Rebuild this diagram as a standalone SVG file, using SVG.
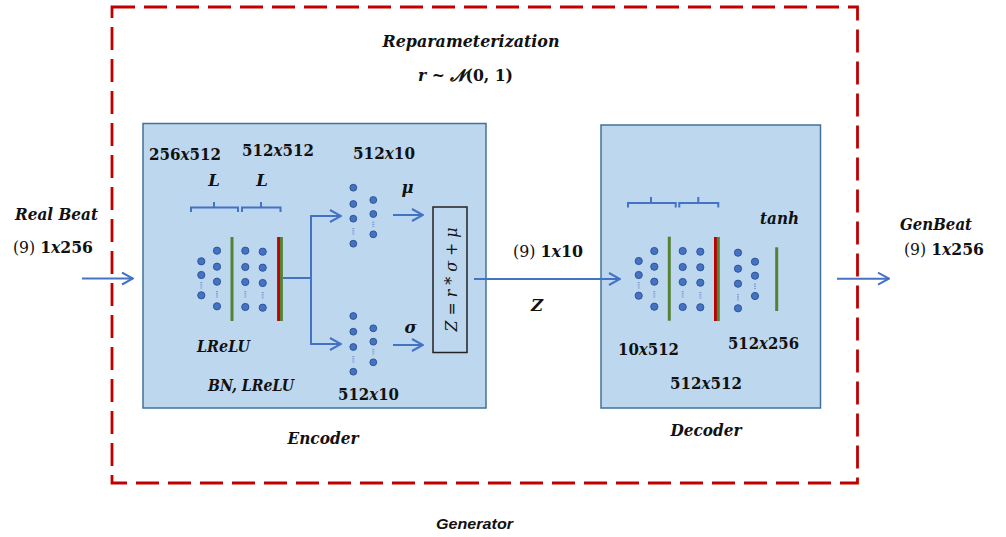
<svg xmlns="http://www.w3.org/2000/svg" width="1006" height="537" viewBox="0 0 1006 537">
  <style>
    .lbl { font-family: "DejaVu Serif", "Liberation Serif", serif; font-weight: bold; fill: #111; font-size: 16.5px; }
    .it { font-style: italic; }
    .rg { font-weight: normal; }
    .box { fill: #bdd7ee; stroke: #41719c; stroke-width: 1.5; }
    .dot { fill: #4472c4; stroke: #2f5597; stroke-width: 1; }
    .gap { stroke: #7f9fd6; stroke-width: 2; stroke-dasharray: 1.2 1; }
    .green { stroke: #548235; stroke-width: 3; }
    .red { stroke: #c00000; stroke-width: 3; }
    .brace { fill: none; stroke: #4472c4; stroke-width: 2; }
    .conn { fill: none; stroke: #4472c4; stroke-width: 2; }
  </style>
  <defs>
    <marker id="arrow" markerUnits="userSpaceOnUse" markerWidth="14" markerHeight="14" viewBox="-13 -7 14 14" refX="0" refY="0" orient="auto">
      <path d="M-11,-6 L0,0 L-11,6" fill="none" stroke="#4472c4" stroke-width="2"/>
    </marker>
  </defs>

  <!-- generator frame -->
  <g id="generator">
    <rect x="112" y="7" width="745.5" height="476" fill="none" stroke="#c00000" stroke-width="2.8" stroke-dasharray="23 9"/>
    <text class="lbl it" x="471" y="47" text-anchor="middle" textLength="177" lengthAdjust="spacingAndGlyphs">Reparameterization</text>
    <text class="lbl" x="418" y="81" textLength="95" lengthAdjust="spacingAndGlyphs"><tspan class="it">r</tspan> ~ <tspan class="it">𝓝</tspan>(0, 1)</text>
    <text x="436" y="529" font-family="Liberation Sans, Arial, sans-serif" font-weight="bold" font-style="italic" font-size="15" textLength="77" lengthAdjust="spacingAndGlyphs" fill="#111">Generator</text>
  </g>

  <!-- input / output labels -->
  <g id="input">
    <text class="lbl it" x="15" y="220" textLength="83" lengthAdjust="spacingAndGlyphs">Real Beat</text>
    <text class="lbl" x="13" y="253" textLength="80" lengthAdjust="spacingAndGlyphs"><tspan class="rg">(9) </tspan>1<tspan class="it">x</tspan>256</text>
  </g>
  <g id="output">
    <text class="lbl it" x="900" y="230" textLength="72" lengthAdjust="spacingAndGlyphs">GenBeat</text>
    <text class="lbl" x="904" y="255" textLength="80" lengthAdjust="spacingAndGlyphs"><tspan class="rg">(9) </tspan>1<tspan class="it">x</tspan>256</text>
  </g>

  <!-- encoder -->
  <g id="encoder">
    <rect class="box" x="143" y="123.5" width="343" height="284.5"/>
    <text class="lbl" x="149" y="160" textLength="72" lengthAdjust="spacingAndGlyphs">256<tspan class="it">x</tspan>512</text>
    <text class="lbl" x="242" y="156" textLength="72" lengthAdjust="spacingAndGlyphs">512<tspan class="it">x</tspan>512</text>
    <text class="lbl" x="353" y="159" textLength="62" lengthAdjust="spacingAndGlyphs">512<tspan class="it">x</tspan>10</text>
    <text class="lbl it" x="214" y="186" font-size="14" text-anchor="middle">L</text>
    <text class="lbl it" x="262" y="186" font-size="14" text-anchor="middle">L</text>
    <path class="brace" d="M191,212 V207.5 H238 V212 M214,207.5 V202"/>
    <path class="brace" d="M242,212 V207.5 H280.5 V212 M261,207.5 V202"/>
    <!-- hidden layers -->
    <circle class="dot" cx="201.3" cy="261.3" r="3.6"/>
    <circle class="dot" cx="201.3" cy="275" r="3.6"/>
    <line class="gap" x1="201.3" y1="282" x2="201.3" y2="289"/>
    <circle class="dot" cx="201.3" cy="295.3" r="3.6"/>
    <circle class="dot" cx="217" cy="250.7" r="3.6"/>
    <circle class="dot" cx="217" cy="266.7" r="3.6"/>
    <circle class="dot" cx="217" cy="281.7" r="3.6"/>
    <line class="gap" x1="217" y1="291" x2="217" y2="298"/>
    <circle class="dot" cx="217" cy="306.3" r="3.6"/>
    <line class="green" x1="232" y1="237" x2="232" y2="321"/>
    <circle class="dot" cx="245.3" cy="250.7" r="3.6"/>
    <circle class="dot" cx="245.3" cy="267" r="3.6"/>
    <circle class="dot" cx="245.3" cy="282" r="3.6"/>
    <line class="gap" x1="245.3" y1="291" x2="245.3" y2="298"/>
    <circle class="dot" cx="245.3" cy="307" r="3.6"/>
    <circle class="dot" cx="262.7" cy="251.7" r="3.6"/>
    <circle class="dot" cx="262.7" cy="267.7" r="3.6"/>
    <circle class="dot" cx="262.7" cy="283" r="3.6"/>
    <line class="gap" x1="262.7" y1="292" x2="262.7" y2="299"/>
    <circle class="dot" cx="262.7" cy="307.7" r="3.6"/>
    <line class="red" x1="278.6" y1="237" x2="278.6" y2="321"/>
    <line class="green" x1="281.4" y1="237" x2="281.4" y2="321"/>
    <!-- mu head -->
    <circle class="dot" cx="353.3" cy="187.7" r="3.4"/>
    <circle class="dot" cx="353.3" cy="204" r="3.4"/>
    <circle class="dot" cx="353.3" cy="218.7" r="3.4"/>
    <line class="gap" x1="353.3" y1="228" x2="353.3" y2="235"/>
    <circle class="dot" cx="353.3" cy="243.7" r="3.4"/>
    <circle class="dot" cx="373.3" cy="200" r="3.4"/>
    <circle class="dot" cx="373.3" cy="214" r="3.4"/>
    <line class="gap" x1="373.3" y1="221.5" x2="373.3" y2="228"/>
    <circle class="dot" cx="373.3" cy="234.3" r="3.4"/>
    <!-- sigma head -->
    <circle class="dot" cx="353.3" cy="316" r="3.4"/>
    <circle class="dot" cx="353.3" cy="331.7" r="3.4"/>
    <circle class="dot" cx="353.3" cy="347" r="3.4"/>
    <line class="gap" x1="353.3" y1="356" x2="353.3" y2="363"/>
    <circle class="dot" cx="353.3" cy="371.7" r="3.4"/>
    <circle class="dot" cx="373.3" cy="328.3" r="3.4"/>
    <circle class="dot" cx="373.3" cy="341.7" r="3.4"/>
    <line class="gap" x1="373.3" y1="349" x2="373.3" y2="355.5"/>
    <circle class="dot" cx="373.3" cy="362.3" r="3.4"/>
    <text class="lbl it" x="407.5" y="193" text-anchor="middle">μ</text>
    <text class="lbl it" x="410.5" y="333" text-anchor="middle">σ</text>
    <text class="lbl it" x="197" y="352" textLength="53" lengthAdjust="spacingAndGlyphs">LReLU</text>
    <text class="lbl it" x="208" y="391" textLength="86" lengthAdjust="spacingAndGlyphs">BN, LReLU</text>
    <text class="lbl" x="338" y="400" textLength="61" lengthAdjust="spacingAndGlyphs">512<tspan class="it">x</tspan>10</text>
    <text class="lbl it" x="323" y="444" text-anchor="middle" textLength="71" lengthAdjust="spacingAndGlyphs">Encoder</text>
  </g>

  <!-- sampling step -->
  <g id="reparam">
    <rect x="433" y="207" width="34" height="145.5" fill="#bdd7ee" stroke="#222" stroke-width="1.5"/>
    <text transform="translate(456.5,279.5) rotate(-90)" x="0" y="0" text-anchor="middle" font-family="DejaVu Serif, Liberation Serif, serif" font-style="italic" font-size="17" fill="#111" textLength="104" lengthAdjust="spacingAndGlyphs">Z = r * σ + μ</text>
  </g>

  <!-- latent -->
  <g id="latent">
    <text class="lbl" x="513" y="257" textLength="70" lengthAdjust="spacingAndGlyphs"><tspan class="rg">(9) </tspan>1<tspan class="it">x</tspan>10</text>
    <text class="lbl it" x="537" y="311" text-anchor="middle">Z</text>
  </g>

  <!-- decoder -->
  <g id="decoder">
    <rect class="box" x="601" y="125" width="219.5" height="283"/>
    <path class="brace" d="M628,207.5 V203 H675.7 V207.5 M651,203 V197"/>
    <path class="brace" d="M679.3,207.5 V203 H718.3 V207.5 M698.3,203 V197"/>
    <circle class="dot" cx="638.7" cy="261" r="3.6"/>
    <circle class="dot" cx="638.7" cy="275" r="3.6"/>
    <line class="gap" x1="638.7" y1="282" x2="638.7" y2="289"/>
    <circle class="dot" cx="638.7" cy="295.7" r="3.6"/>
    <circle class="dot" cx="654.3" cy="251" r="3.6"/>
    <circle class="dot" cx="654.3" cy="266.7" r="3.6"/>
    <circle class="dot" cx="654.3" cy="281.7" r="3.6"/>
    <line class="gap" x1="654.3" y1="291" x2="654.3" y2="298"/>
    <circle class="dot" cx="654.3" cy="306.7" r="3.6"/>
    <line class="green" x1="669.3" y1="236.7" x2="669.3" y2="320.7"/>
    <circle class="dot" cx="682.7" cy="251" r="3.6"/>
    <circle class="dot" cx="682.7" cy="267" r="3.6"/>
    <circle class="dot" cx="682.7" cy="282" r="3.6"/>
    <line class="gap" x1="682.7" y1="291" x2="682.7" y2="298"/>
    <circle class="dot" cx="682.7" cy="307" r="3.6"/>
    <circle class="dot" cx="700.3" cy="251.7" r="3.6"/>
    <circle class="dot" cx="700.3" cy="267.3" r="3.6"/>
    <circle class="dot" cx="700.3" cy="282.7" r="3.6"/>
    <line class="gap" x1="700.3" y1="292" x2="700.3" y2="299"/>
    <circle class="dot" cx="700.3" cy="307.3" r="3.6"/>
    <line class="red" x1="715.5" y1="237" x2="715.5" y2="321"/>
    <line class="green" x1="718.3" y1="237" x2="718.3" y2="321"/>
    <circle class="dot" cx="738" cy="252.7" r="3.6"/>
    <circle class="dot" cx="738" cy="268.7" r="3.6"/>
    <circle class="dot" cx="738" cy="283.7" r="3.6"/>
    <line class="gap" x1="738" y1="294" x2="738" y2="301"/>
    <circle class="dot" cx="738" cy="308.3" r="3.6"/>
    <circle class="dot" cx="755" cy="261.7" r="3.6"/>
    <circle class="dot" cx="755" cy="275.7" r="3.6"/>
    <line class="gap" x1="755" y1="283.5" x2="755" y2="290"/>
    <circle class="dot" cx="755" cy="296" r="3.6"/>
    <line class="green" x1="776.7" y1="247.3" x2="776.7" y2="311"/>
    <text class="lbl it" x="760" y="224" textLength="39" lengthAdjust="spacingAndGlyphs">tanh</text>
    <text class="lbl" x="618" y="355" textLength="61" lengthAdjust="spacingAndGlyphs">10<tspan class="it">x</tspan>512</text>
    <text class="lbl" x="728" y="349" textLength="71" lengthAdjust="spacingAndGlyphs">512<tspan class="it">x</tspan>256</text>
    <text class="lbl" x="670" y="389" textLength="72" lengthAdjust="spacingAndGlyphs">512<tspan class="it">x</tspan>512</text>
    <text class="lbl it" x="706" y="436" text-anchor="middle" textLength="71" lengthAdjust="spacingAndGlyphs">Decoder</text>
  </g>

  <!-- connectors -->
  <g id="connectors">
    <path class="conn" d="M82,278.5 H133" marker-end="url(#arrow)"/>
    <path class="conn" d="M283,278 H311 V216 H341" marker-end="url(#arrow)"/>
    <path class="conn" d="M311,278 V344 H341" marker-end="url(#arrow)"/>
    <path class="conn" d="M393,215 H423" marker-end="url(#arrow)"/>
    <path class="conn" d="M393,345 H423" marker-end="url(#arrow)"/>
    <path class="conn" d="M474,279 H620" marker-end="url(#arrow)"/>
    <path class="conn" d="M837,278.7 H889" marker-end="url(#arrow)"/>
  </g>
</svg>
